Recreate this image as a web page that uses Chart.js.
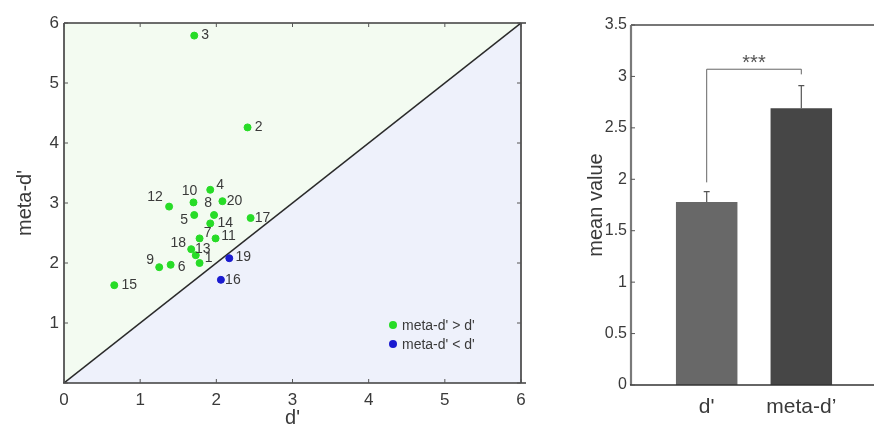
<!DOCTYPE html>
<html>
<head>
<meta charset="utf-8">
<script src="https://cdn.jsdelivr.net/npm/chart.js@4.4.1/dist/chart.umd.min.js"></script>
<style>
    html, body { margin: 0; padding: 0; background: #fff; overflow: hidden; width: 874px; height: 437px; }
    #scatterBox { position: absolute; left: 0; top: 0; width: 540px; height: 437px; }
    #barBox { position: absolute; left: 560px; top: 0; width: 320px; height: 437px; }
</style>
</head>
<body>
<div id="scatterBox"><canvas id="scatterChart"></canvas></div>
<div id="barBox"><canvas id="barChart"></canvas></div>
<script>
// per-subject values
const SUBJECTS = ['1','2','3','4','5','6','7','8','9','10','11','12','13','14','15','16','17','18','19','20'];
const D_PRIME  = [1.78, 2.41, 1.71, 1.92, 1.71, 1.40, 1.78, 1.97, 1.25, 1.70, 1.99, 1.38, 1.73, 1.92, 0.66, 2.06, 2.45, 1.67, 2.17, 2.08];
const META_D   = [2.00, 4.26, 5.79, 3.22, 2.80, 1.97, 2.41, 2.80, 1.93, 3.01, 2.41, 2.94, 2.13, 2.66, 1.63, 1.72, 2.75, 2.23, 2.08, 3.03];
const LEGEND_LABELS = ["meta-d' > d'", "meta-d' < d'"];
const SCATTER_TICKS = [0, 1, 2, 3, 4, 5, 6];

// group means
const BAR_LABELS = ["d'", "meta-d\u2019"];
const BAR_MEANS  = [1.78, 2.69];
const BAR_ERRORS = [0.10, 0.22];
const BAR_TICKS  = [0, 0.5, 1, 1.5, 2, 2.5, 3, 3.5];
const SIG_TEXT   = '***';
const SIG_LEVELS = [1.97, 3.07, 3.02];   // left leg bottom, bracket top, right leg bottom

const FONT = "'Liberation Sans', Arial, sans-serif";
const TEXT_COLOR = '#3a3a3a';
const GREEN = '#27dc27';
const BLUE = '#1a1ad0';

const greenPts = [];
const bluePts = [];
SUBJECTS.forEach((s, i) => {
    const p = { x: D_PRIME[i], y: META_D[i], id: s };
    if (META_D[i] > D_PRIME[i]) greenPts.push(p); else bluePts.push(p);
});

const labelOffsets = {
    '1': [9, -5], '2': [11, 0], '3': [11, 0], '4': [10, -5], '5': [-10, 5],
    '6': [11, 2], '7': [8, -5], '8': [-6, -12], '9': [-9, -7], '10': [-4, -11],
    '11': [13, -2], '12': [-14, -9], '13': [7, -6], '14': [15, 0], '15': [15, 0],
    '16': [12, 0], '17': [12, 0], '18': [-13, -6], '19': [14, -1], '20': [12, 0]
};

// shaded halves above / below the identity line
const halvesPlugin = {
    id: 'halves',
    beforeDatasetsDraw(chart)
    {
        const {ctx, scales: {x, y}} = chart;
        const x0 = x.getPixelForValue(0), x1 = x.getPixelForValue(6);
        const y0 = y.getPixelForValue(0), y1 = y.getPixelForValue(6);

        ctx.save();
        ctx.fillStyle = '#f3fbf1';
        ctx.beginPath();
        ctx.moveTo(x0, y0); ctx.lineTo(x0, y1); ctx.lineTo(x1, y1);
        ctx.closePath();
        ctx.fill();

        ctx.fillStyle = '#eef1fb';
        ctx.beginPath();
        ctx.moveTo(x0, y0); ctx.lineTo(x1, y0); ctx.lineTo(x1, y1);
        ctx.closePath();
        ctx.fill();
        ctx.restore();
    }
};

// box with inward tick marks (matlab style)
const boxPlugin = {
    id: 'box',
    afterDatasetsDraw(chart, args, opts)
    {
        const {ctx, chartArea: a, scales: {x, y}} = chart;

        ctx.save();
        ctx.strokeStyle = opts.color || '#444';
        ctx.lineWidth = opts.width || 1.5;

        if (opts.sides.includes('top'))
        {
            ctx.strokeStyle = opts.topColor || opts.color || '#444';
            ctx.beginPath(); ctx.moveTo(a.left, a.top); ctx.lineTo(a.right + 5, a.top); ctx.stroke();
        }
        if (opts.sides.includes('right'))
        {
            ctx.strokeStyle = opts.color || '#444';
            ctx.beginPath(); ctx.moveTo(a.right, a.top); ctx.lineTo(a.right, a.bottom); ctx.stroke();
        }
        if (opts.sides.includes('left'))
        {
            ctx.strokeStyle = opts.leftColor || opts.color || '#444';
            ctx.lineWidth = opts.leftWidth || opts.width || 1.5;
            ctx.beginPath(); ctx.moveTo(a.left, a.top); ctx.lineTo(a.left, a.bottom); ctx.stroke();
        }
        if (opts.sides.includes('bottom'))
        {
            ctx.strokeStyle = opts.bottomColor || opts.color || '#444';
            ctx.lineWidth = opts.width || 1.5;
            ctx.beginPath(); ctx.moveTo(a.left - 1, a.bottom); ctx.lineTo(a.right + 5, a.bottom); ctx.stroke();
        }

        ctx.lineWidth = 1;
        ctx.strokeStyle = '#555';
        const len = 4;
        if (opts.xTicks)
        {
            x.ticks.forEach(t => {
                const px = x.getPixelForValue(t.value);
                ctx.beginPath(); ctx.moveTo(px, a.bottom); ctx.lineTo(px, a.bottom - len); ctx.stroke();
                ctx.beginPath(); ctx.moveTo(px, a.top); ctx.lineTo(px, a.top + len); ctx.stroke();
            });
        }
        y.ticks.forEach(t => {
            const py = y.getPixelForValue(t.value);
            ctx.beginPath(); ctx.moveTo(a.left, py); ctx.lineTo(a.left + len, py); ctx.stroke();
            if (opts.sides.includes('right'))
            {
                ctx.beginPath(); ctx.moveTo(a.right, py); ctx.lineTo(a.right - len, py); ctx.stroke();
            }
        });
        ctx.restore();
    }
};

// subject numbers next to the dots + legend in the lower right
const annotatePlugin = {
    id: 'annotate',
    afterDraw(chart)
    {
        const {ctx, chartArea: a, scales: {x, y}} = chart;

        ctx.save();
        ctx.font = `14px ${FONT}`;
        ctx.fillStyle = TEXT_COLOR;
        ctx.textAlign = 'center';
        ctx.textBaseline = 'middle';
        SUBJECTS.forEach((s, i) => {
            const off = labelOffsets[s] || [10, 0];
            ctx.fillText(s, x.getPixelForValue(D_PRIME[i]) + off[0], y.getPixelForValue(META_D[i]) + off[1]);
        });

        const colors = [GREEN, BLUE];
        ctx.textAlign = 'left';
        LEGEND_LABELS.forEach((lbl, i) => {
            const cy = a.bottom - 58 + i * 19;
            const cx = a.right - 128;
            ctx.fillStyle = colors[i];
            ctx.beginPath(); ctx.arc(cx, cy, 4, 0, Math.PI * 2); ctx.fill();
            ctx.fillStyle = TEXT_COLOR;
            ctx.fillText(lbl, cx + 9, cy + 1);
        });
        ctx.restore();
    }
};

// upper error whiskers and significance bracket
const barExtrasPlugin = {
    id: 'barExtras',
    afterDatasetsDraw(chart)
    {
        const {ctx, scales: {x, y}} = chart;

        ctx.save();
        ctx.strokeStyle = '#555';
        ctx.lineWidth = 1.2;
        BAR_MEANS.forEach((m, i) => {
            const px = x.getPixelForValue(i + 1);
            const top = y.getPixelForValue(m + BAR_ERRORS[i]);
            ctx.beginPath();
            ctx.moveTo(px, y.getPixelForValue(m)); ctx.lineTo(px, top);
            ctx.moveTo(px - 3, top); ctx.lineTo(px + 3, top);
            ctx.stroke();
        });

        const xl = x.getPixelForValue(1), xr = x.getPixelForValue(2);
        ctx.strokeStyle = '#666';
        ctx.lineWidth = 1;
        ctx.beginPath();
        ctx.moveTo(xl, y.getPixelForValue(SIG_LEVELS[0]));
        ctx.lineTo(xl, y.getPixelForValue(SIG_LEVELS[1]));
        ctx.lineTo(xr, y.getPixelForValue(SIG_LEVELS[1]));
        ctx.lineTo(xr, y.getPixelForValue(SIG_LEVELS[2]));
        ctx.stroke();

        ctx.fillStyle = '#555';
        ctx.font = `20px ${FONT}`;
        ctx.textAlign = 'center';
        ctx.textBaseline = 'middle';
        ctx.fillText(SIG_TEXT, (xl + xr) / 2, y.getPixelForValue(SIG_LEVELS[1]) - 6);
        ctx.restore();
    }
};

const scatterChart = new Chart(document.getElementById('scatterChart'), {
    type: 'scatter',
    data: {
        datasets: [
            { data: greenPts, backgroundColor: GREEN, borderColor: GREEN, pointRadius: 3.5, pointHoverRadius: 3.5 },
            { data: bluePts, backgroundColor: BLUE, borderColor: BLUE, pointRadius: 3.5, pointHoverRadius: 3.5 },
            { data: [{x: 0, y: 0}, {x: 6, y: 6}], showLine: true, borderColor: '#2a2a2a', borderWidth: 1.5, pointRadius: 0 }
        ]
    },
    options: {
        responsive: true,
        maintainAspectRatio: false,
        animation: false,
        events: [],
        layout: { padding: { left: 0, top: 23, right: 19, bottom: 0 } },
        plugins: {
            legend: { display: false },
            tooltip: { enabled: false },
            box: { sides: ['top', 'right', 'bottom', 'left'], color: '#3c3c3c', width: 1.6, xTicks: true }
        },
        scales: {
            x: {
                type: 'linear', min: 0, max: 6,
                afterBuildTicks: s => { s.ticks = SCATTER_TICKS.map(v => ({ value: v })); },
                afterFit: s => { s.height = 54; },
                ticks: { color: TEXT_COLOR, font: { family: FONT, size: 17 }, padding: 7, maxRotation: 0 },
                grid: { display: false, drawTicks: false },
                border: { display: false },
                title: { display: true, text: "d'", color: TEXT_COLOR, font: { family: FONT, size: 20 }, padding: { top: 0, bottom: 7 } }
            },
            y: {
                type: 'linear', min: 0, max: 6,
                afterBuildTicks: s => { s.ticks = SCATTER_TICKS.map(v => ({ value: v })); },
                afterFit: s => { s.width = 64; },
                ticks: { color: TEXT_COLOR, font: { family: FONT, size: 17 }, padding: 5, callback: v => v === 0 ? '' : v },
                grid: { display: false, drawTicks: false },
                border: { display: false },
                title: { display: true, text: "meta-d'", color: TEXT_COLOR, font: { family: FONT, size: 20 }, padding: { top: 13, bottom: 0 } }
            }
        }
    },
    plugins: [halvesPlugin, boxPlugin, annotatePlugin]
});

const barChart = new Chart(document.getElementById('barChart'), {
    type: 'bar',
    data: {
        datasets: [{
            data: BAR_MEANS.map((m, i) => ({ x: i + 1, y: m })),
            backgroundColor: ['#686868', '#464646'],
            borderWidth: 0,
            categoryPercentage: 1,
            barPercentage: 0.65
        }]
    },
    options: {
        responsive: true,
        maintainAspectRatio: false,
        animation: false,
        events: [],
        layout: { padding: { left: 0, top: 25, right: 3, bottom: 0 } },
        plugins: {
            legend: { display: false },
            tooltip: { enabled: false },
            box: { sides: ['top', 'left', 'bottom'], color: '#555', topColor: '#4a4a4a', leftColor: '#7a7a7a', leftWidth: 2.2, bottomColor: '#333', width: 1.6, xTicks: false }
        },
        scales: {
            x: {
                type: 'linear', min: 0.2, max: 2.8, offset: false,
                afterBuildTicks: s => { s.ticks = BAR_LABELS.map((_, i) => ({ value: i + 1 })); },
                afterFit: s => { s.height = 52; },
                ticks: { color: TEXT_COLOR, font: { family: FONT, size: 21 }, padding: 10, maxRotation: 0, callback: v => BAR_LABELS[v - 1] },
                grid: { display: false, offset: false, drawTicks: false },
                border: { display: false }
            },
            y: {
                min: 0, max: 3.5,
                afterBuildTicks: s => { s.ticks = BAR_TICKS.map(v => ({ value: v })); },
                afterFit: s => { s.width = 71; },
                ticks: { color: TEXT_COLOR, font: { family: FONT, size: 16 }, padding: 4, callback: v => String(v) },
                grid: { display: false, drawTicks: false },
                border: { display: false },
                title: { display: true, text: 'mean value', color: TEXT_COLOR, font: { family: FONT, size: 20 }, padding: { top: 24, bottom: 0 } }
            }
        }
    },
    plugins: [boxPlugin, barExtrasPlugin]
});
</script>
</body>
</html>
